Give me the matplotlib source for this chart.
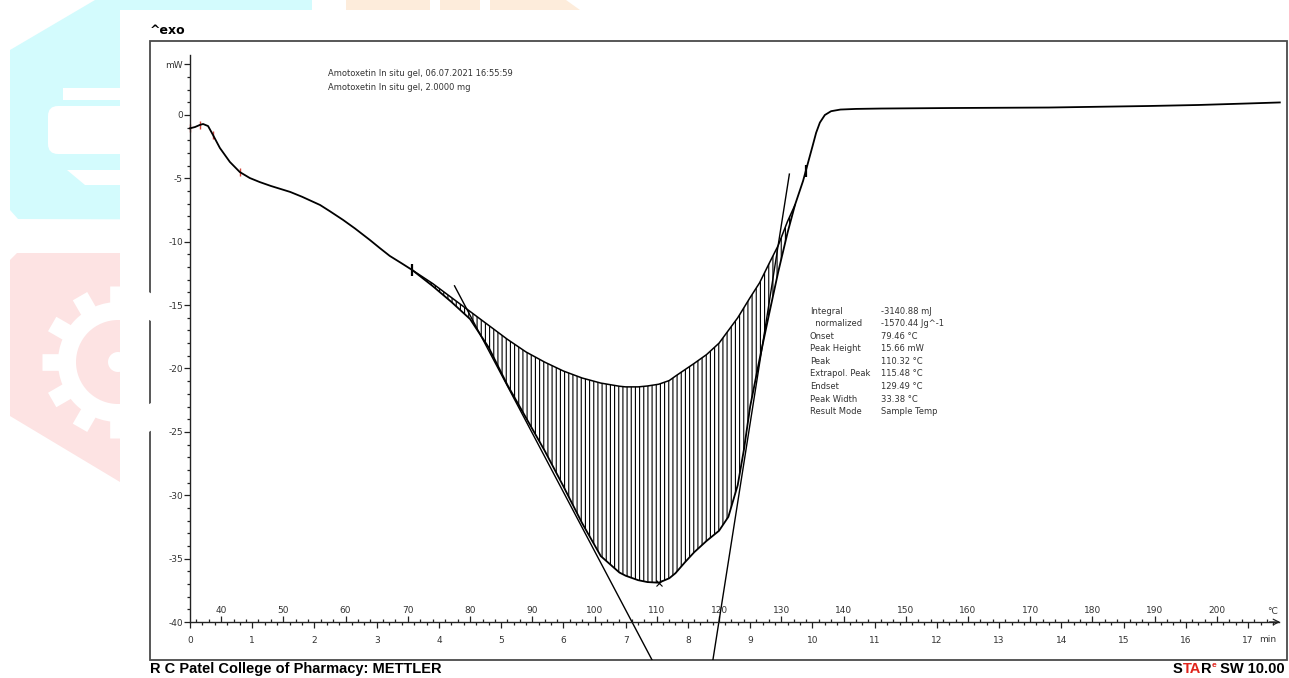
"""DSC thermogram of Amotoxetin in situ gel (METTLER STARe export style)."""
import numpy as np
import matplotlib
matplotlib.use("Agg")
import matplotlib.pyplot as plt
import matplotlib.ticker as mticker
from matplotlib.patches import Polygon, Rectangle, Circle, FancyBboxPatch

plt.rcParams["axes.unicode_minus"] = False
plt.rcParams["font.family"] = "DejaVu Sans"
plt.rcParams["hatch.linewidth"] = 0.8

W, H = 1289, 678

# measured heat flow (time in min, heat flow in mW)
CURVE_T = [0.0, 0.08, 0.16, 0.21, 0.29, 0.37, 0.48, 0.64, 0.80, 0.96, 1.12, 1.3, 1.61,
           1.8, 2.09, 2.25, 2.46, 2.65, 2.89, 3.05, 3.21, 3.4,
           3.57, 3.9, 4.2, 4.5, 4.8, 5.1, 5.4, 5.7, 6.0, 6.3, 6.6, 6.9, 7.0, 7.2, 7.35,
           7.532, 7.7, 7.8, 7.95, 8.1, 8.3, 8.5, 8.65, 8.8, 8.9, 9.0, 9.15, 9.3, 9.45,
           9.6, 9.72,
           9.85, 9.95, 10.0, 10.06, 10.12, 10.2, 10.3, 10.45, 10.7, 11.1, 12.2, 13.8,
           15.4, 16.2, 17.0, 17.51]
CURVE_MW = [-1.05, -0.95, -0.78, -0.71, -0.87, -1.58, -2.6, -3.7, -4.5, -4.97, -5.29,
            -5.6, -6.07, -6.45, -7.1, -7.6, -8.28, -8.95, -9.86, -10.5, -11.12, -11.7,
            -12.23, -13.5, -14.75, -16.1, -18.35, -21.3, -23.9, -26.5, -29.3, -32.2,
            -34.8, -36.1, -36.35, -36.7, -36.85, -36.9, -36.55, -36.15, -35.3, -34.5,
            -33.6, -32.8, -31.7, -29.2, -26.4, -23.0, -19.3, -15.8, -12.4, -9.3, -7.1,
            -5.2, -3.4, -2.5, -1.4, -0.6, 0.0, 0.3, 0.43, 0.48, 0.51, 0.55, 0.59,
            0.71, 0.79, 0.91, 0.99]

# integration baseline (spline) under the melting peak, same time grid
BASE_T = [3.57, 3.9, 4.2, 4.5, 4.8, 5.1, 5.4, 5.7, 6.0, 6.3, 6.6, 6.9, 7.0, 7.2, 7.35,
          7.532, 7.7, 7.8, 7.95, 8.1, 8.3, 8.5, 8.65, 8.8, 8.9, 9.0, 9.15, 9.3, 9.45,
          9.6, 9.72]
BASE_MW = [-12.23, -13.3, -14.4, -15.5, -16.6, -17.7, -18.7, -19.5, -20.2, -20.75,
           -21.15, -21.4, -21.45, -21.45, -21.38, -21.24, -20.95, -20.6, -20.1, -19.6,
           -18.9, -18.0, -17.0, -16.0, -15.2, -14.4, -13.25, -11.76, -10.3, -8.4, -7.1]

START_C = 35.0        # sample temperature at t = 0
RATE = 10.0           # K/min
ONSET_C = 79.46
ENDSET_C = 129.49
PEAK_C = 110.32
TANGENT_SLOPES = (-9.3, 31.2)     # mW/min, left / right flank

RED_MARKS_T = [0.0, 0.16, 0.37, 0.80]
RED_MARKS_MW = [-1.05, -0.78, -1.58, -4.5]
LIMIT_MARKS_T = [3.57, 9.9]
LIMIT_MARKS_MW = [-12.23, -4.4]

RESULT_LABELS = ["Integral", "  normalized", "Onset", "Peak Height", "Peak",
                 "Extrapol. Peak", "Endset", "Peak Width", "Result Mode"]
RESULT_VALUES = ["-3140.88 mJ", "-1570.44 Jg^-1", "79.46 °C", "15.66 mW",
                 "110.32 °C", "115.48 °C", "129.49 °C", "33.38 °C", "Sample Temp"]

TIME_TICKS = np.arange(0, 18, 1)
TEMP_TICKS = np.arange(40, 201, 10)


def fx(x):
    return x / W


def fy(y):
    return 1 - y / H


fig = plt.figure(figsize=(W / 100, H / 100), dpi=100)

# --- page background: journal watermark and the white chart sheet ---
bg = fig.add_axes([0, 0, 1, 1])
bg.set_xlim(0, W)
bg.set_ylim(H, 0)
bg.axis("off")
cyan, pink, orange = "#d3fbfd", "#fde3e3", "#fdecdb"
bg.add_patch(Polygon([(10, 50), (95, 0), (312, 0), (312, 220), (18, 219), (10, 210)],
                     fc=cyan, ec="none"))
bg.add_patch(Rectangle((63, 88), 60, 12, fc="white", ec="none"))
bg.add_patch(FancyBboxPatch((48, 106), 84, 48, boxstyle="round,pad=0,rounding_size=10",
                            fc="white", ec="none"))
bg.add_patch(Polygon([(67, 170), (125, 170), (125, 185), (85, 185)], fc="white", ec="none"))
bg.add_patch(Polygon([(10, 260), (17, 253), (125, 253), (125, 485), (10, 416)],
                     fc=pink, ec="none"))
gx, gy = 118, 362
bg.add_patch(Circle((gx, gy), 60, fc="white", ec="none"))
for ang in np.deg2rad(np.arange(0, 360, 30)):
    bg.plot([gx + 52 * np.cos(ang), gx + 76 * np.cos(ang)],
            [gy + 52 * np.sin(ang), gy + 76 * np.sin(ang)],
            color="white", lw=12, solid_capstyle="butt")
bg.add_patch(Circle((gx, gy), 42, fc=pink, ec="none"))
bg.add_patch(Circle((gx, gy), 10, fc="white", ec="none"))
bg.add_patch(Rectangle((346, 0), 84, 10, fc=orange, ec="none"))
bg.add_patch(Rectangle((440, 0), 40, 10, fc=orange, ec="none"))
bg.add_patch(Polygon([(490, 0), (566, 0), (580, 10), (490, 10)], fc=orange, ec="none"))
bg.add_patch(Rectangle((120, 10), W - 120, H - 10, fc="white", ec="none"))
bg.add_patch(Rectangle((150, 41), 1137, 619, fc="none", ec="#4a4a4a", lw=1.3))

# --- plot area inside the frame ---
ax = fig.add_axes([fx(150), fy(660), (1287 - 150) / W, (660 - 41) / H])
ax.set_facecolor("none")
ax.set_xlim((150 - 190) / 62.24, (1287 - 190) / 62.24)
ax.set_ylim((115 - 660) / 12.675, (115 - 41) / 12.675)

curve_t = np.array(CURVE_T)
curve_mw = np.array(CURVE_MW)
base_t = np.array(BASE_T)
base_mw = np.array(BASE_MW)
sel = (curve_t >= base_t[0]) & (curve_t <= base_t[-1])

ax.fill_between(base_t, base_mw, curve_mw[sel], facecolor="none", edgecolor="black",
                hatch="||||", linewidth=0)
ax.plot(curve_t, curve_mw, color="black", lw=1.3, zorder=3)
ax.plot(base_t, base_mw, color="black", lw=1.1, zorder=3)

# onset / endset tangents through the baseline
t_on = (ONSET_C - START_C) / RATE
t_end = (ENDSET_C - START_C) / RATE
y_on = np.interp(t_on, base_t, base_mw)
y_end = np.interp(t_end, base_t, base_mw)
tl = np.array([4.25, 7.8])
ax.plot(tl, y_on + TANGENT_SLOPES[0] * (tl - t_on), color="black", lw=1.0)
tr = np.array([8.2, 9.63])
ax.plot(tr, y_end + TANGENT_SLOPES[1] * (tr - t_end), color="black", lw=1.0)

ax.plot(RED_MARKS_T, RED_MARKS_MW, ls="none", marker="|", ms=6, mew=1.0, color="#d0433a")
ax.plot(LIMIT_MARKS_T, LIMIT_MARKS_MW, ls="none", marker="|", ms=9, mew=1.6, color="black")
t_pk = (PEAK_C - START_C) / RATE
ax.plot([t_pk], [np.interp(t_pk, curve_t, curve_mw)], ls="none", marker="x", ms=5,
        mew=0.8, color="black")

# axes drawn the METTLER way: y axis at t = 0, time axis at -40 mW
for side in ("top", "right"):
    ax.spines[side].set_visible(False)
ax.spines["left"].set_position(("data", 0))
ax.spines["bottom"].set_position(("data", -40))
ax.spines["left"].set_bounds(-40, 4.7)
ax.spines["bottom"].set_bounds(0, 17.5)
for side in ("left", "bottom"):
    ax.spines[side].set_linewidth(1.0)
    ax.spines[side].set_color("#222222")

ax.yaxis.set_major_locator(mticker.FixedLocator(list(np.arange(-40, 1, 5)) + [4]))
ax.yaxis.set_major_formatter(mticker.FuncFormatter(
    lambda v, _: "mW" if v > 2 else f"{v:.0f}"))
ax.yaxis.set_minor_locator(mticker.FixedLocator(np.arange(-40, 5, 1)))
ax.xaxis.set_major_locator(mticker.FixedLocator(TIME_TICKS))
ax.xaxis.set_minor_locator(mticker.FixedLocator(np.arange(0, 17.45, 0.2)))
ax.tick_params(axis="both", which="both", direction="out", colors="#222222",
               labelcolor="#333333", labelsize=6.5, width=0.9)
ax.tick_params(axis="y", which="major", length=4, pad=1)
ax.tick_params(axis="y", which="minor", length=2.5)
ax.tick_params(axis="x", which="major", length=4, pad=6)
ax.tick_params(axis="x", which="minor", length=2.5)
ax.annotate("", xy=(17.56, -40), xytext=(17.3, -40),
            arrowprops=dict(arrowstyle="->", lw=0.9, color="#222222"))

y0, y1 = ax.get_ylim()
sec = ax.secondary_xaxis((-40 - y0) / (y1 - y0),
                         functions=(lambda t: START_C + RATE * t,
                                    lambda c: (c - START_C) / RATE))
sec.set_alignment("top")
for sp in sec.spines.values():
    sp.set_visible(False)
sec.xaxis.set_major_locator(mticker.FixedLocator(TEMP_TICKS))
sec.xaxis.set_minor_locator(mticker.FixedLocator(np.arange(36, 210, 2)))
sec.tick_params(axis="x", which="both", direction="out", colors="#222222",
                labelcolor="#333333", labelsize=6.5, width=0.9)
sec.tick_params(axis="x", which="major", length=4, pad=1)
sec.tick_params(axis="x", which="minor", length=2.5)

fig.text(fx(1272), fy(611), "°C", fontsize=6.5, color="#333333", ha="center", va="center")
fig.text(fx(1268), fy(640), "min", fontsize=6.5, color="#333333", ha="center", va="center")

# --- annotations ---
fig.text(fx(150), fy(30), "^exo", fontsize=9, weight="bold", va="center", ha="left")
fig.text(fx(328), fy(74), "Amotoxetin In situ gel, 06.07.2021 16:55:59", fontsize=6,
         color="#333333", va="center")
fig.text(fx(328), fy(87), "Amotoxetin In situ gel, 2.0000 mg", fontsize=6,
         color="#333333", va="center")
for i, (lab, val) in enumerate(zip(RESULT_LABELS, RESULT_VALUES)):
    yy = 311 + i * 12.6
    fig.text(fx(810), fy(yy), lab, fontsize=6, color="#333333", va="center")
    fig.text(fx(881), fy(yy), val, fontsize=6, color="#333333", va="center")

foot = dict(family="Liberation Sans", weight="bold", fontsize=10.5)
fig.text(fx(150), fy(669), "R C Patel College of Pharmacy: METTLER", va="center", **foot)
red = "#e0241c"
s0 = fig.text(fx(1173), fy(669), "S", va="center", **foot)
s1 = bg.annotate("TA", xy=(1, 0), xycoords=s0, va="bottom", ha="left", color=red, **foot)
s2 = bg.annotate("R", xy=(1, 0), xycoords=s1, va="bottom", ha="left", **foot)
s3 = bg.annotate("e", xy=(1, 1), xycoords=s2, va="top", ha="left", color=red,
                 family="Liberation Sans", weight="bold", fontsize=6)
bg.annotate(" SW 10.00", xy=(1, 0), xycoords=(s3, s2), va="bottom", ha="left", **foot)

fig.savefig("out.png", dpi=100)
